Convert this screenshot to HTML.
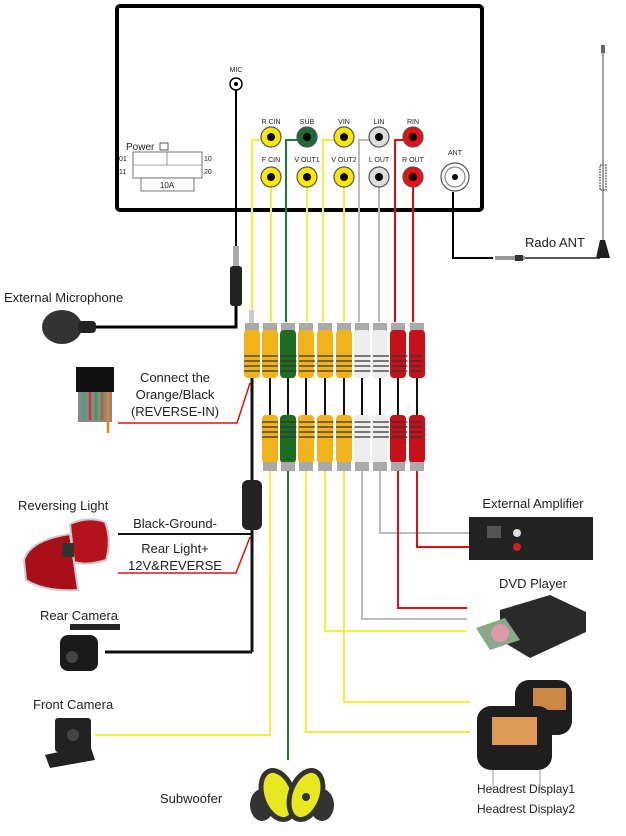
<!DOCTYPE html>
<html><head><meta charset="utf-8"><style>
html,body{margin:0;padding:0;background:#fff}
svg{display:block}
text{font-family:"Liberation Sans",Arial,sans-serif;fill:#222}
</style></head><body>
<svg width="626" height="836" viewBox="0 0 626 836" xmlns="http://www.w3.org/2000/svg">
<rect x="117" y="6" width="365" height="204" rx="3" fill="#fff" stroke="#000" stroke-width="4"/>
<text x="236" y="72" font-size="7" text-anchor="middle">MIC</text>
<circle cx="236" cy="84" r="6" fill="#fff" stroke="#000" stroke-width="1.5"/>
<circle cx="236" cy="84" r="2" fill="#000"/>
<text x="126" y="150" font-size="10">Power</text>
<rect x="160" y="143" width="8" height="7" fill="#fff" stroke="#333" stroke-width="0.8"/>
<rect x="133" y="152" width="69" height="26" fill="#fff" stroke="#555" stroke-width="0.8"/>
<line x1="167" y1="152" x2="167" y2="165" stroke="#555" stroke-width="0.6"/>
<line x1="133" y1="165" x2="202" y2="165" stroke="#555" stroke-width="0.6"/>
<rect x="141" y="178" width="53" height="13" fill="#fff" stroke="#555" stroke-width="0.8"/>
<text x="167" y="188" font-size="8" text-anchor="middle">10A</text>
<text x="119" y="161" font-size="7">01</text><text x="119" y="174" font-size="7">11</text>
<text x="204" y="161" font-size="7">10</text><text x="204" y="174" font-size="7">20</text>
<g font-size="7" text-anchor="middle">
<text x="271" y="124">R CIN</text><text x="307" y="124">SUB</text><text x="344" y="124">VIN</text><text x="379" y="124">LIN</text><text x="413" y="124">RIN</text>
<text x="271" y="162">F CIN</text><text x="307" y="162">V OUT1</text><text x="344" y="162">V OUT2</text><text x="379" y="162">L OUT</text><text x="413" y="162">R OUT</text>
<text x="455" y="155">ANT</text>
</g>
<g fill="none" stroke-width="2">
<polyline points="262,140 252,140 252,318" stroke="#f0f040"/>
<polyline points="298,140 286,140 286,322" stroke="#1a7a3a"/>
<polyline points="335,140 323,140 323,322" stroke="#f0f040"/>
<polyline points="370,140 359,140 359,322" stroke="#bbb"/>
<polyline points="404,140 395,140 395,322" stroke="#e01010"/>
<line x1="271" y1="186" x2="271" y2="322" stroke="#f0f040"/>
<line x1="307" y1="186" x2="307" y2="322" stroke="#f0f040"/>
<line x1="344" y1="186" x2="344" y2="322" stroke="#f0f040"/>
<line x1="379" y1="186" x2="379" y2="322" stroke="#bbb"/>
<line x1="413" y1="186" x2="413" y2="322" stroke="#e01010"/>
</g>
<g stroke-width="1.2">
<circle cx="271" cy="137" r="10" fill="#ffe800" stroke="#555"/><circle cx="271" cy="137" r="4" fill="#000"/>
<circle cx="307" cy="137" r="10" fill="#1b6b33" stroke="#555"/><circle cx="307" cy="137" r="4" fill="#000"/>
<circle cx="344" cy="137" r="10" fill="#ffe800" stroke="#555"/><circle cx="344" cy="137" r="4" fill="#000"/>
<circle cx="379" cy="137" r="10" fill="#ddd" stroke="#555"/><circle cx="379" cy="137" r="4" fill="#000"/>
<circle cx="413" cy="137" r="10" fill="#e81010" stroke="#555"/><circle cx="413" cy="137" r="4" fill="#000"/>
<circle cx="271" cy="177" r="10" fill="#ffe800" stroke="#555"/><circle cx="271" cy="177" r="4" fill="#000"/>
<circle cx="307" cy="177" r="10" fill="#ffe800" stroke="#555"/><circle cx="307" cy="177" r="4" fill="#000"/>
<circle cx="344" cy="177" r="10" fill="#ffe800" stroke="#555"/><circle cx="344" cy="177" r="4" fill="#000"/>
<circle cx="379" cy="177" r="10" fill="#ddd" stroke="#555"/><circle cx="379" cy="177" r="4" fill="#000"/>
<circle cx="413" cy="177" r="10" fill="#e81010" stroke="#555"/><circle cx="413" cy="177" r="4" fill="#000"/>
<circle cx="455" cy="177" r="14" fill="#fff" stroke="#555"/><circle cx="455" cy="177" r="10" fill="#fff" stroke="#888"/><circle cx="455" cy="177" r="3" fill="#000"/>
</g>
<polyline points="453,192 453,258 493,258" fill="none" stroke="#000" stroke-width="2"/>
<rect x="495" y="256" width="30" height="4" fill="#999"/>
<rect x="515" y="255" width="8" height="6" fill="#333"/>
<line x1="525" y1="258" x2="600" y2="258" stroke="#222" stroke-width="1.5"/>
<path d="M596 258 L600 240 L605 240 L610 258 Z" fill="#222"/>
<line x1="603" y1="45" x2="603" y2="240" stroke="#666" stroke-width="1.2"/>
<rect x="601" y="45" width="4" height="8" fill="#666"/>
<rect x="600" y="165" width="6" height="25" fill="none" stroke="#555" stroke-width="1.5" stroke-dasharray="1.5,1.2"/>
<text x="525" y="247" font-size="13">Rado ANT</text>
<line x1="236" y1="90" x2="236" y2="246" stroke="#000" stroke-width="2"/>
<rect x="233" y="246" width="6" height="20" fill="#aaa"/>
<rect x="230" y="266" width="12" height="40" rx="3" fill="#222"/>
<polyline points="236,306 236,327 95,327" fill="none" stroke="#000" stroke-width="3"/>
<ellipse cx="62" cy="327" rx="20" ry="17" fill="#333"/>
<rect x="78" y="321" width="18" height="12" rx="4" fill="#222"/>
<text x="4" y="302" font-size="13">External Microphone</text>
<rect x="76" y="367" width="38" height="25" fill="#111"/>
<rect x="78" y="392" width="34" height="30" fill="#888"/>
<g stroke-width="2.5"><line x1="84" y1="392" x2="84" y2="420" stroke="#3a7"/><line x1="90" y1="392" x2="90" y2="420" stroke="#c33"/><line x1="96" y1="392" x2="96" y2="420" stroke="#2a5"/><line x1="102" y1="392" x2="102" y2="420" stroke="#a63"/><line x1="108" y1="392" x2="108" y2="433" stroke="#f0821e"/></g>
<polyline points="118,423 237,423 250,383" fill="none" stroke="#e01010" stroke-width="1.5"/>
<g font-size="13" text-anchor="middle"><text x="175" y="382">Connect the</text><text x="175" y="399">Orange/Black</text><text x="175" y="416">(REVERSE-IN)</text></g>
<line x1="252" y1="378" x2="252" y2="652" stroke="#111" stroke-width="3"/>
<rect x="242" y="480" width="20" height="50" rx="6" fill="#222"/>
<line x1="118" y1="534" x2="252" y2="534" stroke="#111" stroke-width="2"/>
<polyline points="118,573 236,573 250,537" fill="none" stroke="#e01010" stroke-width="1.5"/>
<line x1="105" y1="652" x2="252" y2="652" stroke="#111" stroke-width="3"/>
<g font-size="13"><text x="18" y="510">Reversing Light</text><text x="175" y="528" text-anchor="middle">Black-Ground-</text><text x="175" y="553" text-anchor="middle">Rear Light+</text><text x="175" y="570" text-anchor="middle">12V&amp;REVERSE</text><text x="40" y="620">Rear Camera</text><text x="33" y="709">Front Camera</text></g>
<!-- tail lights -->
<path d="M70 524 Q88 516 105 522 Q112 540 106 560 Q88 566 74 562 Z" fill="#b5121c" stroke="#ccc" stroke-width="2"/>
<path d="M24 560 Q30 540 70 534 L78 590 Q45 592 26 580 Z" fill="#a80f18" stroke="#ccc" stroke-width="2"/>
<rect x="62" y="543" width="12" height="14" fill="#333"/>
<rect x="70" y="624" width="50" height="6" fill="#222"/>
<rect x="60" y="635" width="38" height="36" rx="8" fill="#1a1a1a"/>
<circle cx="72" cy="657" r="6" fill="#444"/>
<rect x="55" y="718" width="36" height="34" rx="3" fill="#222"/>
<path d="M45 755 L90 745 L95 760 L50 768 Z" fill="#222"/>
<circle cx="73" cy="735" r="6" fill="#444"/>
<g>
<line x1="270" y1="378" x2="270" y2="416" stroke="#111" stroke-width="2"/>
<line x1="288" y1="378" x2="288" y2="416" stroke="#111" stroke-width="2"/>
<line x1="306" y1="378" x2="306" y2="416" stroke="#111" stroke-width="2"/>
<line x1="325" y1="378" x2="325" y2="416" stroke="#111" stroke-width="2"/>
<line x1="344" y1="378" x2="344" y2="416" stroke="#111" stroke-width="2"/>
<line x1="362" y1="378" x2="362" y2="416" stroke="#111" stroke-width="2"/>
<line x1="380" y1="378" x2="380" y2="416" stroke="#111" stroke-width="2"/>
<line x1="398" y1="378" x2="398" y2="416" stroke="#111" stroke-width="2"/>
<line x1="417" y1="378" x2="417" y2="416" stroke="#111" stroke-width="2"/>
</g>
<g stroke="none">
<rect x="249" y="310" width="5" height="14" fill="#ccc"/>
<rect x="245" y="323" width="14" height="8" fill="#aaa"/>
<rect x="244" y="330" width="16" height="48" rx="4" fill="#f2b21a"/>
<rect x="263" y="323" width="14" height="8" fill="#aaa"/><rect x="262" y="330" width="16" height="48" rx="4" fill="#f2b21a"/>
<rect x="281" y="323" width="14" height="8" fill="#aaa"/><rect x="280" y="330" width="16" height="48" rx="4" fill="#1f6b1f"/>
<rect x="299" y="323" width="14" height="8" fill="#aaa"/><rect x="298" y="330" width="16" height="48" rx="4" fill="#f2b21a"/>
<rect x="318" y="323" width="14" height="8" fill="#aaa"/><rect x="317" y="330" width="16" height="48" rx="4" fill="#f2b21a"/>
<rect x="337" y="323" width="14" height="8" fill="#aaa"/><rect x="336" y="330" width="16" height="48" rx="4" fill="#f2b21a"/>
<rect x="355" y="323" width="14" height="8" fill="#aaa"/><rect x="354" y="330" width="16" height="48" rx="4" fill="#eee"/>
<rect x="373" y="323" width="14" height="8" fill="#aaa"/><rect x="372" y="330" width="16" height="48" rx="4" fill="#eee"/>
<rect x="391" y="323" width="14" height="8" fill="#aaa"/><rect x="390" y="330" width="16" height="48" rx="4" fill="#c8101a"/>
<rect x="410" y="323" width="14" height="8" fill="#aaa"/><rect x="409" y="330" width="16" height="48" rx="4" fill="#c8101a"/>
<rect x="262" y="415" width="16" height="48" rx="4" fill="#f2b21a"/><rect x="263" y="462" width="14" height="9" fill="#aaa"/>
<rect x="280" y="415" width="16" height="48" rx="4" fill="#1f6b1f"/><rect x="281" y="462" width="14" height="9" fill="#aaa"/>
<rect x="298" y="415" width="16" height="48" rx="4" fill="#f2b21a"/><rect x="299" y="462" width="14" height="9" fill="#aaa"/>
<rect x="317" y="415" width="16" height="48" rx="4" fill="#f2b21a"/><rect x="318" y="462" width="14" height="9" fill="#aaa"/>
<rect x="336" y="415" width="16" height="48" rx="4" fill="#f2b21a"/><rect x="337" y="462" width="14" height="9" fill="#aaa"/>
<rect x="354" y="415" width="16" height="48" rx="4" fill="#eee"/><rect x="355" y="462" width="14" height="9" fill="#aaa"/>
<rect x="372" y="415" width="16" height="48" rx="4" fill="#eee"/><rect x="373" y="462" width="14" height="9" fill="#aaa"/>
<rect x="390" y="415" width="16" height="48" rx="4" fill="#c8101a"/><rect x="391" y="462" width="14" height="9" fill="#aaa"/>
<rect x="409" y="415" width="16" height="48" rx="4" fill="#c8101a"/><rect x="410" y="462" width="14" height="9" fill="#aaa"/>
</g>
<g stroke="#333" stroke-width="1.2">
<path d="M244 356h16M244 361h16M244 366h16M244 371h16"/>
<path d="M262 356h160M262 361h160M262 366h160M262 371h160" stroke-dasharray="16,2.5"/>
<path d="M262 422h160M262 427h160M262 432h160M262 437h160" stroke-dasharray="16,2.5"/>
</g>
<g fill="none" stroke-width="2">
<polyline points="270,471 270,735 95,735" stroke="#f0f040"/>
<polyline points="288,471 288,760" stroke="#1a7a3a"/>
<polyline points="306,471 306,732 470,732" stroke="#f0f040"/>
<polyline points="325,471 325,631 467,631" stroke="#f0f040"/>
<polyline points="344,471 344,702 470,702" stroke="#f0f040"/>
<polyline points="362,471 362,619 467,619" stroke="#bbb"/>
<polyline points="380,471 380,533 517,533" stroke="#bbb"/>
<polyline points="398,471 398,608 467,608" stroke="#e01010"/>
<polyline points="417,471 417,547 517,547" stroke="#e01010"/>
</g>
<text x="533" y="508" font-size="13" text-anchor="middle">External Amplifier</text>
<rect x="469" y="517" width="124" height="43" fill="#222"/>
<circle cx="517" cy="533" r="4" fill="#ddd"/><circle cx="517" cy="547" r="4" fill="#c22"/>
<rect x="487" y="526" width="14" height="12" fill="#555"/>
<text x="533" y="588" font-size="13" text-anchor="middle">DVD Player</text>
<path d="M500 610 L550 595 L586 612 L586 632 L530 658 L500 640 Z" fill="#2a2a2a"/>
<path d="M476 628 L505 618 L520 640 L490 650 Z" fill="#8a8"/>
<circle cx="500" cy="633" r="9" fill="#d9a"/>
<rect x="515" y="680" width="57" height="55" rx="14" fill="#1e1e1e"/>
<rect x="533" y="688" width="33" height="22" fill="#c84"/>
<rect x="477" y="706" width="75" height="64" rx="14" fill="#1e1e1e"/>
<rect x="492" y="717" width="45" height="28" fill="#d95"/>
<line x1="493" y1="770" x2="493" y2="790" stroke="#ccc" stroke-width="2"/>
<line x1="540" y1="770" x2="540" y2="790" stroke="#ccc" stroke-width="2"/>
<text x="477" y="793" font-size="12" fill="#444">Headrest Display1</text>
<text x="477" y="813" font-size="12" fill="#444">Headrest Display2</text>
<!-- subwoofer -->
<ellipse cx="262" cy="805" rx="12" ry="16" fill="#333"/>
<ellipse cx="322" cy="805" rx="12" ry="16" fill="#333"/>
<ellipse cx="278" cy="795" rx="18" ry="28" fill="#333" transform="rotate(-20 278 795)"/>
<ellipse cx="278" cy="795" rx="13" ry="23" fill="#e8e820" transform="rotate(-20 278 795)"/>
<ellipse cx="306" cy="795" rx="18" ry="28" fill="#333" transform="rotate(20 306 795)"/>
<ellipse cx="306" cy="795" rx="13" ry="23" fill="#e8e820" transform="rotate(20 306 795)"/>
<circle cx="306" cy="797" r="4" fill="#333"/>
<text x="160" y="803" font-size="13" fill="#444">Subwoofer</text>
</svg>
</body></html>
